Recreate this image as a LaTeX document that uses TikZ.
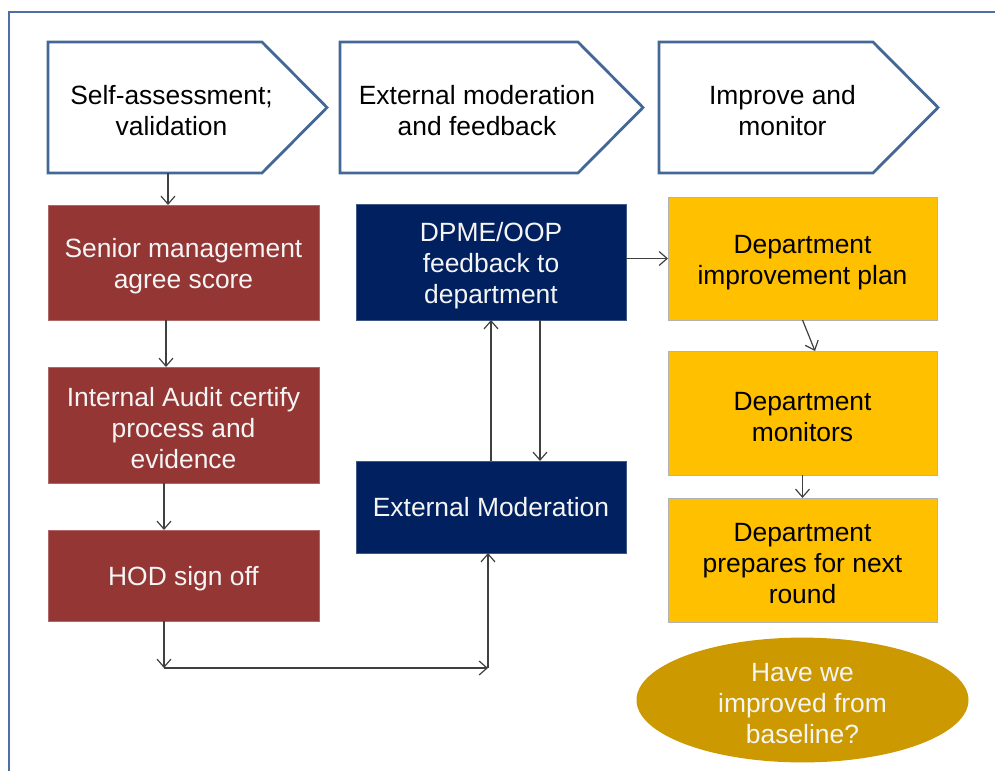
\documentclass[tikz,border=0pt]{standalone}
\usepackage{fontspec}
\setmainfont{Liberation Sans}
\usetikzlibrary{arrows.meta,positioning,calc,shapes.geometric}
\definecolor{frameblue}{RGB}{79,110,165}
\definecolor{chevblue}{RGB}{68,104,150}
\definecolor{boxred}{RGB}{148,54,52}
\definecolor{boxnavy}{RGB}{0,32,96}
\definecolor{boxamber}{RGB}{255,192,0}
\definecolor{ovalgold}{RGB}{204,153,0}
\definecolor{linegray}{RGB}{64,64,64}
\definecolor{paletxt}{RGB}{245,245,245}
\newcommand{\bodyfont}{\fontsize{26.4}{31}\selectfont}
\newcommand{\topstrut}{\rule{0pt}{26pt}}
\tikzset{
  frm/.style={frameblue, line width=1.6pt},
  chev/.style={minimum height=131pt, inner sep=0pt, outer sep=0pt},
  chevline/.style={draw=chevblue, line width=2.8pt, fill=white, line join=miter},
  chevtxt/.style={font=\bodyfont, align=center, text=black},
  blk/.style={minimum width=271pt, inner sep=0pt, outer sep=0pt, align=center, font=\bodyfont},
  redblk/.style={blk, fill=boxred, draw=boxred!75!white, line width=0.6pt, text=paletxt},
  navblk/.style={blk, fill=boxnavy, draw=boxnavy!75!white, line width=0.6pt, text=paletxt},
  ambblk/.style={blk, fill=boxamber, draw=gray!60, line width=0.6pt, text=black},
  oval/.style={ellipse, fill=ovalgold, minimum width=332pt, minimum height=114pt,
               inner sep=0pt, align=center, text=paletxt, font=\bodyfont},
  flow/.style={-{Straight Barb[length=8pt,width=14pt]}, linegray, line width=1.2pt},
}

\begin{document}
\begin{tikzpicture}[x=1pt, y=-1pt]
  \useasboundingbox (0,0) rectangle (995,771);
  % slide frame, top and left edges only
  \draw[frm] (995,12) -- (9,12) -- (9,771);

  % the three stage chevrons
  \foreach \nm/\cx/\w/\tx/\txt in {chevA/187.5/279/171.5/{Self-assessment;\\validation},
                                   chevB/491.5/303/477/{External moderation\\and feedback},
                                   chevC/798.5/279/782.5/{Improve and\\monitor}}{
    \node[chev, minimum width=\w pt] (\nm) at (\cx,107.5) {};
    \draw[chevline] (\nm.north west) -- ([xshift=-65pt]\nm.north east) -- (\nm.east)
      -- ([xshift=-65pt]\nm.south east) -- (\nm.south west) -- cycle;
    \node[chevtxt] (\nm-lbl) at (\tx,111) {\txt};
  }

  % self-assessment column
  \node[redblk, minimum height=115pt] (sma) at (183.5,262.5) {\topstrut Senior management\\agree score};
  \node[redblk, minimum height=116pt, below=47pt of sma] (ia) {\topstrut Internal Audit certify\\process and\\evidence};
  \node[redblk, minimum height=91pt, below=47pt of ia] (hod) {\topstrut HOD sign off};

  % moderation column
  \node[navblk, minimum width=270pt, minimum height=116pt] (dpme) at (491,262) {\topstrut DPME/OOP\\feedback to\\department};
  \node[navblk, minimum width=270pt, minimum height=92pt, below=141pt of dpme] (extmod) {External Moderation};

  % improvement column
  \node[ambblk, minimum width=269pt, minimum height=123pt] (dip) at (802.5,258.5) {\topstrut Department\\improvement plan};
  \node[ambblk, minimum width=269pt, minimum height=124pt, below=31pt of dip] (dmon) {\topstrut Department\\monitors};
  \node[ambblk, minimum width=269pt, minimum height=124pt, below=23pt of dmon] (dprep) {\topstrut Department\\prepares for next\\round};
  \node[oval] (better) at (802.5,700) {\topstrut Have we\\improved from\\baseline?};

  % connectors
  \coordinate (lowL) at (164,668);
  \coordinate (lowR) at (488,668);
  \draw[flow] ([xshift=-19.5pt]chevA.south) -- ([xshift=-15.5pt]sma.north);
  \draw[flow] ([xshift=-17.5pt]sma.south) -- ([xshift=-17.5pt]ia.north);
  \draw[flow] ([xshift=-19.5pt]ia.south) -- ([xshift=-19.5pt]hod.north);
  \draw[flow] (hod.south -| lowL) -- (lowL);
  \draw[flow] (lowL) -- (lowR);
  \draw[flow] (lowR) -- (lowR |- extmod.south);
  \draw[flow] (extmod.north) -- (dpme.south);
  \draw[flow] ([xshift=49pt]dpme.south) -- ([xshift=49pt]extmod.north);
  \draw[flow] (dip.west -| dpme.east) -- (dip.west);
  \draw[flow] (dip.south) -- ([xshift=12.5pt]dmon.north);
  \draw[flow] (dmon.south) -- (dprep.north);
\end{tikzpicture}
\end{document}
